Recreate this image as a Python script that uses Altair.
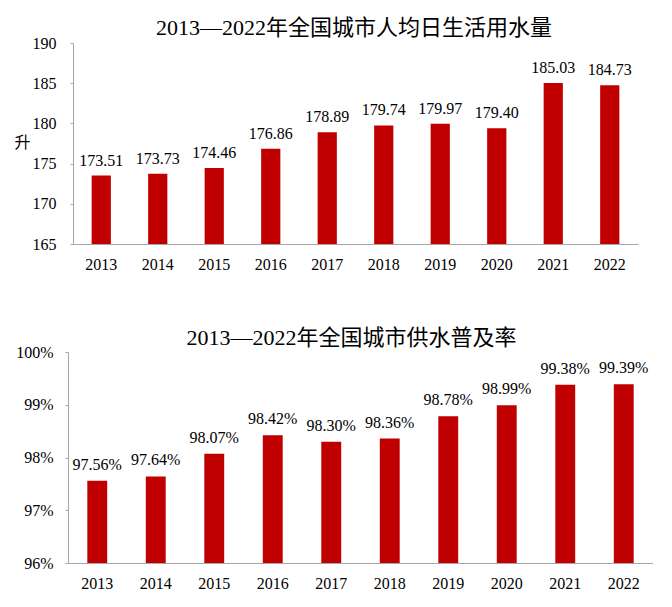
import altair as alt
import pandas as pd

years = ["2013", "2014", "2015", "2016", "2017", "2018", "2019", "2020", "2021", "2022"]
water = [173.51, 173.73, 174.46, 176.86, 178.89, 179.74, 179.97, 179.40, 185.03, 184.73]
coverage = [97.56, 97.64, 98.07, 98.42, 98.30, 98.36, 98.78, 98.99, 99.38, 99.39]

water_ticks = [165, 170, 175, 180, 185, 190]
cov_ticks = [96, 97, 98, 99, 100]

title_top = "2013—2022年全国城市人均日生活用水量"
title_bottom = "2013—2022年全国城市供水普及率"

FONT = "Liberation Serif, Noto Sans CJK SC"
RED = "#C00000"
AXIS_GRAY = "#a6a6a6"

df1 = pd.DataFrame({"year": years, "v": water})
df2 = pd.DataFrame({"year": years, "v": coverage})


def xenc(rng=None):
    sc = dict(paddingInner=0.66, paddingOuter=0.33)
    if rng is not None:
        sc["range"] = rng
    return alt.X(
        "year:N",
        sort=years,
        title=None,
        scale=alt.Scale(**sc),
        axis=alt.Axis(
            labelAngle=0, ticks=False, domainColor=AXIS_GRAY, labelFont=FONT,
            labelFontSize=16, labelColor="#000", labelPadding=12,
        ),
    )


base1 = alt.Chart(df1)
bars1 = base1.mark_bar(color=RED).encode(
    x=xenc([5, 570]),
    y=alt.Y(
        "v:Q",
        scale=alt.Scale(domain=[water_ticks[0], water_ticks[-1]], nice=False, zero=False),
        axis=alt.Axis(
            values=water_ticks, grid=False, tickSize=3, tickColor=AXIS_GRAY, offset=-5,
            domainColor=AXIS_GRAY, labelFont=FONT, labelFontSize=16, labelColor="#000",
            labelPadding=14, title="升", titleAngle=0, titleFont=FONT, titleFontSize=16,
            titleFontWeight="normal", titleColor="#000", titleX=-51, titleY=99,
            titleAlign="center", titleBaseline="middle",
        ),
    ),
    y2=alt.datum(water_ticks[0]),
)
text1 = base1.mark_text(font=FONT, fontSize=16, color="#000", baseline="alphabetic", dy=-10).encode(
    x=alt.X("year:N", sort=years),
    y="v:Q",
    text=alt.Text("v:Q", format=".2f"),
)
top = (bars1 + text1).properties(
    width=570, height=201,
    title=alt.TitleParams(title_top, font=FONT, fontSize=22, fontWeight="normal",
                          color="#000", anchor="middle", frame="group", offset=-5, dx=1),
)

base2 = alt.Chart(df2).transform_calculate(label="format(datum.v, '.2f') + '%'")
bars2 = base2.mark_bar(color=RED).encode(
    x=xenc(),
    y=alt.Y(
        "v:Q",
        scale=alt.Scale(domain=[cov_ticks[0], cov_ticks[-1]], nice=False, zero=False),
        axis=alt.Axis(
            values=cov_ticks, grid=False, tickSize=3, tickColor=AXIS_GRAY,
            domainColor=AXIS_GRAY, labelFont=FONT, labelFontSize=16, labelColor="#000",
            labelPadding=12, title=None, labelExpr="datum.value + '%'",
        ),
    ),
    y2=alt.datum(cov_ticks[0]),
)
text2 = base2.mark_text(font=FONT, fontSize=16, color="#000", baseline="alphabetic", dy=-11).encode(
    x=alt.X("year:N", sort=years),
    y="v:Q",
    text="label:N",
)
bottom = (bars2 + text2).properties(
    width=585, height=211,
    title=alt.TitleParams(title_bottom, font=FONT, fontSize=22, fontWeight="normal",
                          color="#000", anchor="middle", frame="group", offset=-6, dx=-9),
)

chart = alt.vconcat(top, bottom, spacing=55).properties(
    padding={"left": 5, "top": 9, "right": 0, "bottom": 0}
).configure_view(stroke=None)

chart.save("out.html", embed_options={"renderer": "svg", "actions": False})
